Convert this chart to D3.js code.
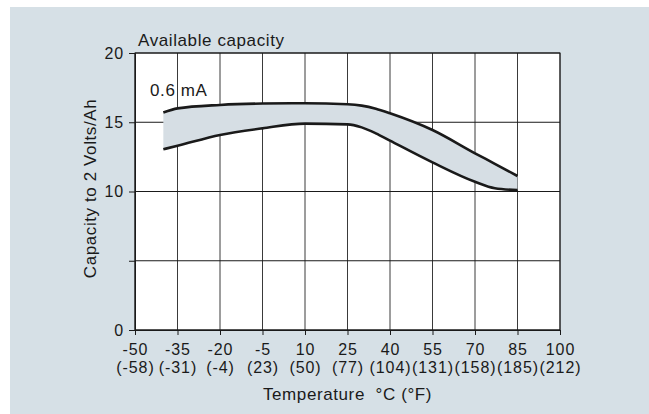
<!DOCTYPE html>
<html>
<head>
<meta charset="utf-8">
<script src="https://cdn.jsdelivr.net/npm/d3@7"></script>
<style>
  body { margin: 0; background: #fff; }
  text { font-family: "Liberation Sans", Arial, sans-serif; font-size: 17px; letter-spacing: 0.6px; fill: #1a1a1a; }
  .tick text { font-size: 16px; letter-spacing: 0.9px; }
</style>
</head>
<body>
<svg id="chart" width="649" height="414"></svg>
<script>
// data
const tempC = [-40, -35, -20, -5, 10, 25, 30, 35, 40, 55, 70, 77, 85];
const upperAh = [15.7, 16.0, 16.25, 16.35, 16.37, 16.3, 16.2, 15.98, 15.65, 14.44, 12.76, 12.0, 11.12];
const lowerAh = [13.05, 13.3, 14.08, 14.56, 14.9, 14.85, 14.63, 14.2, 13.67, 12.1, 10.7, 10.23, 10.1];

const xTicksC = [-50, -35, -20, -5, 10, 25, 40, 55, 70, 85, 100];
const xTicksF = ["(-58)", "(-31)", "(-4)", "(23)", "(50)", "(77)", "(104)", "(131)", "(158)", "(185)", "(212)"];
const yTicks = [0, 5, 10, 15, 20];
const yTickLabels = ["0", "", "10", "15", "20"];

const svg = d3.select("#chart");
const W = 649, H = 414;
const margin = { top: 53, right: 89, bottom: 84, left: 135 };
const width = W - margin.left - margin.right;
const height = H - margin.top - margin.bottom;

// panel background
svg.append("rect")
  .attr("x", 10).attr("y", 7)
  .attr("width", W - 10).attr("height", H - 7)
  .attr("fill", "#d6e0e6");

const g = svg.append("g")
  .attr("transform", `translate(${margin.left},${margin.top})`);

const x = d3.scaleLinear().domain([-50, 100]).range([0, width]);
const y = d3.scaleLinear().domain([0, 20]).range([height, 0]);

g.append("rect")
  .attr("width", width).attr("height", height)
  .attr("fill", "#fff");

// grid
g.append("g")
  .selectAll("line.vgrid")
  .data(xTicksC)
  .join("line")
  .attr("class", "vgrid")
  .attr("x1", d => x(d)).attr("x2", d => x(d))
  .attr("y1", 0).attr("y2", height)
  .attr("stroke", "#3a3a3a")
  .attr("stroke-width", 1);

g.append("g")
  .selectAll("line.hgrid")
  .data(yTicks)
  .join("line")
  .attr("class", "hgrid")
  .attr("x1", 0).attr("x2", width)
  .attr("y1", d => y(d)).attr("y2", d => y(d))
  .attr("stroke", "#1a1a1a")
  .attr("stroke-width", 1);

// band between curves
const area = d3.area()
  .x((d, i) => x(tempC[i]))
  .y0((d, i) => y(lowerAh[i]))
  .y1((d, i) => y(upperAh[i]))
  .curve(d3.curveMonotoneX);

g.append("path")
  .datum(tempC)
  .attr("d", area)
  .attr("fill", "#d6dee4");

const line = d3.line()
  .x((d, i) => x(tempC[i]))
  .y(d => y(d))
  .curve(d3.curveMonotoneX);

[upperAh, lowerAh].forEach(series => {
  g.append("path")
    .datum(series)
    .attr("d", line)
    .attr("fill", "none")
    .attr("stroke", "#1a1a1a")
    .attr("stroke-width", 2.6);
});

// border
g.append("rect")
  .attr("width", width).attr("height", height)
  .attr("fill", "none")
  .attr("stroke", "#1a1a1a")
  .attr("stroke-width", 1);

// y axis
const yAxis = g.append("g")
  .call(d3.axisLeft(y)
    .tickValues(yTicks)
    .tickSize(6)
    .tickPadding(5)
    .tickFormat((d, i) => yTickLabels[i]));
yAxis.select(".domain").attr("stroke", "#1a1a1a");
yAxis.selectAll(".tick line").attr("stroke", "#1a1a1a");
yAxis.selectAll("text").attr("fill", null);
yAxis.attr("font-size", null).attr("font-family", null);

// x axis, two-line labels (°C over °F)
const xAxis = g.append("g")
  .attr("transform", `translate(0,${height})`)
  .call(d3.axisBottom(x)
    .tickValues(xTicksC)
    .tickSize(5)
    .tickFormat(""));
xAxis.select(".domain").attr("stroke", "#1a1a1a");
xAxis.selectAll(".tick line").attr("stroke", "#1a1a1a");
xAxis.selectAll(".tick text").remove();
xAxis.attr("font-size", null).attr("font-family", null);

xAxis.selectAll(".tick").each(function(d, i) {
  const tick = d3.select(this);
  tick.append("text")
    .attr("text-anchor", "middle")
    .attr("y", 24.5)
    .text(d);
  tick.append("text")
    .attr("text-anchor", "middle")
    .attr("y", 42.5)
    .text(xTicksF[i]);
});

// labels
svg.append("text")
  .attr("x", 138).attr("y", 46)
  .text("Available capacity");

svg.append("text")
  .attr("x", 150).attr("y", 96)
  .text("0.6 mA");

svg.append("text")
  .attr("x", margin.left + width / 2).attr("y", 400)
  .attr("text-anchor", "middle")
  .style("white-space", "pre")
  .text("Temperature  °C (°F)");

svg.append("text")
  .attr("transform", `translate(96,${margin.top + height / 2 - 3}) rotate(-90)`)
  .attr("text-anchor", "middle")
  .text("Capacity to 2 Volts/Ah");
</script>
</body>
</html>
